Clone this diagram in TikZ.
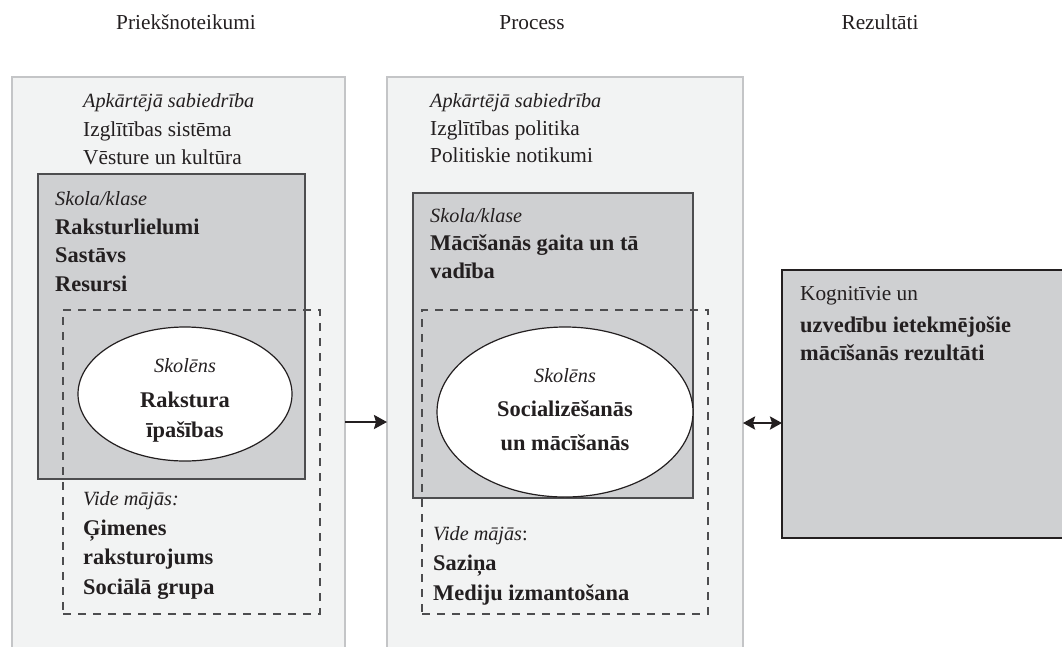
\documentclass[tikz,border=0pt]{standalone}
\usepackage{fontspec}
\setmainfont{Liberation Serif}
\usetikzlibrary{shapes.geometric,arrows.meta}
\definecolor{panelfill}{HTML}{F2F3F3}
\definecolor{panelline}{HTML}{C4C5C7}
\definecolor{boxfill}{HTML}{CFD0D2}
\definecolor{boxline}{HTML}{4D4D4F}
\definecolor{inkline}{HTML}{231F20}
\tikzset{
  panel/.style={rectangle, draw=panelline, line width=2pt, fill=panelfill,
    anchor=north west, inner sep=0pt, outer sep=0pt},
  schoolbox/.style={rectangle, draw=boxline, line width=1.6pt, fill=boxfill,
    anchor=north west, inner sep=0pt, outer sep=0pt},
  homebox/.style={rectangle, draw=boxline, line width=1.1pt,
    dash pattern=on 8pt off 7pt, anchor=north west, inner sep=0pt, outer sep=0pt},
  pupil/.style={ellipse, draw=inkline, line width=1.2pt, fill=white,
    inner sep=0pt, outer sep=0pt},
  resultbox/.style={rectangle, draw=inkline, line width=2pt, fill=boxfill,
    anchor=north west, inner sep=0pt, outer sep=0pt},
  txt/.style={anchor=base west, inner sep=0pt, text=inkline,
    font=\fontsize{21.3}{26}\selectfont},
  btxt/.style={txt, font=\fontsize{22.4}{26}\selectfont\bfseries},
  itxt/.style={txt, font=\fontsize{20.2}{26}\selectfont\itshape},
  ctxt/.style={txt, anchor=base},
  flow/.style={line width=2.4pt, draw=inkline,
    -{Stealth[length=13pt,width=14pt,inset=2pt]}},
  flowboth/.style={flow, {Stealth[length=12pt,width=13pt,inset=2pt]}-{Stealth[length=12pt,width=13pt,inset=2pt]}}
}
\begin{document}
\begin{tikzpicture}[x=1pt,y=-1pt]
  \useasboundingbox (0,0) rectangle (1062,646);

  \node[ctxt] (tpre) at (186,29) {Priekšnoteikumi};
  \node[ctxt] (tproc) at (532,29) {Process};
  \node[ctxt] (tres) at (880,29) {Rezultāti};

  % Priekšnoteikumi
  \node[panel, minimum width=333pt, minimum height=572pt] (lpanel) at (12,77) {};
  \node[itxt] (lsoc) at (83,107) {Apkārtējā sabiedrība};
  \node[txt] (lsys) at (83,136) {Izglītības sistēma};
  \node[txt] (lcul) at (83,164) {Vēsture un kultūra};
  \node[schoolbox, minimum width=267pt, minimum height=305pt] (lschool) at (38,174) {};
  \node[itxt] (lskh) at (55,205) {Skola/klase};
  \node[btxt] (lsk1) at (55,234) {Raksturlielumi};
  \node[btxt] (lsk2) at (55,262) {Sastāvs};
  \node[btxt] (lsk3) at (55,291) {Resursi};
  \node[homebox, minimum width=257pt, minimum height=304pt] (lhome) at (63,310) {};
  \node[pupil, minimum width=214pt, minimum height=134pt] (lpupil) at (185,394) {};
  \node[itxt, anchor=base] (lpuh) at (lpupil.center |- 0,372) {Skolēns};
  \node[btxt, anchor=base] (lpu1) at (lpupil.center |- 0,407) {Rakstura};
  \node[btxt, anchor=base] (lpu2) at (lpupil.center |- 0,437) {īpašības};
  \node[itxt] (lhoh) at (83,505) {Vide mājās:};
  \node[btxt] (lho1) at (83,535) {Ģimenes};
  \node[btxt] (lho2) at (83,564) {raksturojums};
  \node[btxt] (lho3) at (83,594) {Sociālā grupa};

  % Process
  \node[panel, minimum width=356pt, minimum height=572pt] (mpanel) at (387,77) {};
  \node[itxt] (msoc) at (430,107) {Apkārtējā sabiedrība};
  \node[txt] (mpol) at (430,135) {Izglītības politika};
  \node[txt] (mevt) at (430,162) {Politiskie notikumi};
  \node[schoolbox, minimum width=280pt, minimum height=305pt] (mschool) at (413,193) {};
  \node[itxt] (mskh) at (430,222) {Skola/klase};
  \node[btxt] (msk1) at (430,250) {Mācīšanās gaita un tā};
  \node[btxt] (msk2) at (430,278) {vadība};
  \node[homebox, minimum width=286pt, minimum height=304pt] (mhome) at (422,310) {};
  \node[pupil, minimum width=256pt, minimum height=170pt] (mpupil) at (565,412) {};
  \node[itxt, anchor=base] (mpuh) at (mpupil.center |- 0,382) {Skolēns};
  \node[btxt, anchor=base] (mpu1) at (mpupil.center |- 0,416) {Socializēšanās};
  \node[btxt, anchor=base] (mpu2) at (mpupil.center |- 0,450) {un mācīšanās};
  \node[itxt] (mhoh) at (433,540) {Vide mājās\upshape:};
  \node[btxt] (mho1) at (433,570) {Saziņa};
  \node[btxt] (mho2) at (433,600) {Mediju izmantošana};

  % Rezultāti
  \node[resultbox, minimum width=284pt, minimum height=268pt] (rbox) at (782,270) {};
  \node[txt] (rres0) at (800,300) {Kognitīvie un};
  \node[btxt] (rres1) at (800,332) {uzvedību ietekmējošie};
  \node[btxt] (rres2) at (800,360) {mācīšanās rezultāti};

  \coordinate (lrow) at (0,422);
  \coordinate (rrow) at (0,423);
  \draw[flow] (lpanel.east |- lrow) -- (mpanel.west |- lrow);
  \draw[flowboth] (mpanel.east |- rrow) -- (rbox.west |- rrow);
\end{tikzpicture}
\end{document}
